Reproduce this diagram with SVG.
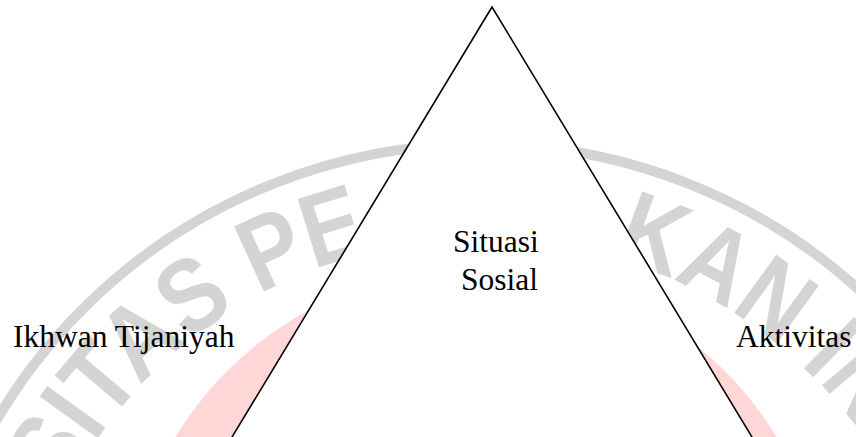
<svg xmlns="http://www.w3.org/2000/svg" width="856" height="437" viewBox="0 0 856 437">
  <style>
    .wm-ring { fill: none; stroke: #d4d4d4; stroke-width: 10; }
    .wm-disk { fill: #ffd7d7; }
    .wm-text { font-family: "Liberation Sans", Arial, sans-serif; font-weight: bold; font-size: 104px; fill: #d4d4d4; }
    .shape { fill: #ffffff; stroke: #000000; stroke-width: 1.6; stroke-linejoin: miter; }
    .label { font-family: "Liberation Serif", "Times New Roman", serif; font-size: 31.5px; fill: #000000; }
  </style>
  <defs>
    <path id="wmArc" d="M 13 707 A 468 468 0 0 1 949 707"/>
  </defs>
  <rect x="0" y="0" width="856" height="437" fill="#ffffff"/>
  <g id="watermark">
    <circle class="wm-disk" cx="476" cy="620" r="352"/>
    <circle class="wm-ring" cx="481" cy="707" r="563"/>
    <text class="wm-text" text-anchor="middle"><textPath href="#wmArc" startOffset="422" textLength="404" lengthAdjust="spacingAndGlyphs">SITAS PE</textPath></text>
    <text class="wm-text" text-anchor="middle"><textPath href="#wmArc" startOffset="1021" textLength="307" lengthAdjust="spacingAndGlyphs">KAN IN</textPath></text>
  </g>
  <g id="connectors">
    <polygon class="shape" points="492,7 226,447 758,447"/>
  </g>
  <g id="node-situasi-sosial">
    <text class="label" x="453" y="252">Situasi</text>
    <text class="label" x="461" y="290">Sosial</text>
  </g>
  <g id="node-ikhwan-tijaniyah">
    <text class="label" x="13" y="347">Ikhwan Tijaniyah</text>
  </g>
  <g id="node-aktivitas">
    <text class="label" x="736" y="347">Aktivitas</text>
  </g>
</svg>
